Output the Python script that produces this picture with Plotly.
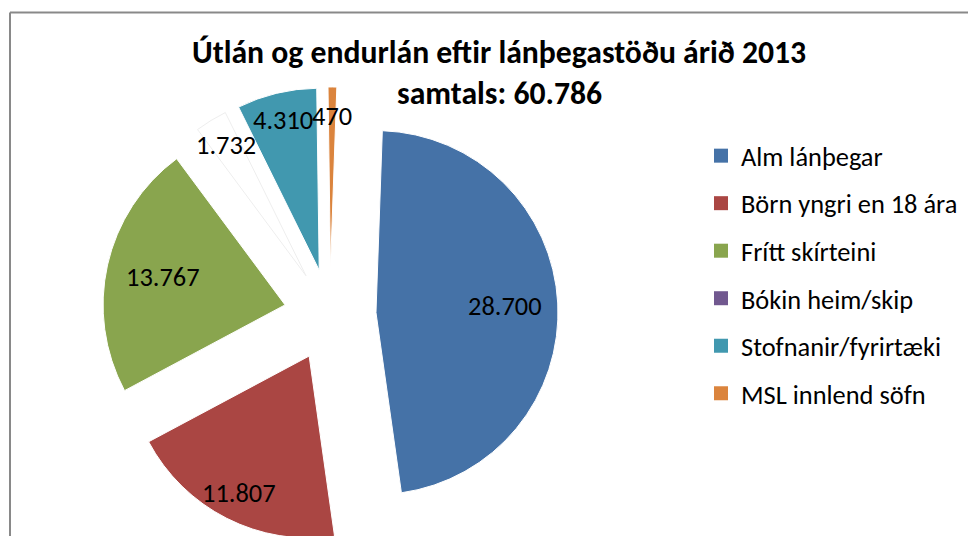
import math
import plotly.graph_objects as go

# ---- data ----
categories = ["Alm lánþegar", "Börn yngri en 18 ára", "Frítt skírteini",
              "Bókin heim/skip", "Stofnanir/fyrirtæki", "MSL innlend söfn"]
values = [28700, 11807, 13767, 1732, 4310, 470]
legend_colors = ["#4572A7", "#AA4643", "#89A54E", "#71588F", "#4198AF", "#DB843D"]
slice_colors = ["#4572A7", "#AA4643", "#89A54E", "#FFFFFF", "#4198AF", "#DB843D"]
title_line1 = "Útlán og endurlán eftir lánþegastöðu árið 2013"
title_line2 = "samtals: 60.786"

# ---- styling / layout ----
W, H = 976, 536
OFF = 8  # page offset of the plot div (body margin) in the viewer
FONT = "Calibri, Carlito, 'Liberation Sans', Arial, sans-serif"
PULL = 0.253
ROT = 2.0
PIE_CX, PIE_CY, PIE_R = 330 - OFF, 315 - OFF, 182  # target pie centre / radius in px
HALF = PIE_R * (1 + PULL)
DOM_X = [(PIE_CX - HALF) / W, (PIE_CX + HALF) / W]
DOM_Y = [1 - (PIE_CY + HALF) / H, 1 - (PIE_CY - HALF) / H]
# radial position of each value label (fraction of radius, measured from the pulled apex)
LABEL_RADIUS = [0.71, 0.845, 0.69, 0.84, 0.85, 0.84]


def fmt(v):
    return f"{v:,.0f}".replace(",", ".")


def px_x(x):
    return (x - OFF) / W


def px_y(y):
    return 1 - (y - OFF) / H


fig = go.Figure()
fig.add_trace(go.Pie(
    labels=categories, values=values, sort=False, direction="clockwise", rotation=ROT,
    marker=dict(colors=slice_colors,
                line=dict(color=["white", "white", "white", "#eeeeee", "white", "white"], width=1)),
    pull=[PULL] * len(values),
    textinfo="none",
    domain=dict(x=DOM_X, y=DOM_Y),
    showlegend=False, hoverinfo="label+value",
))

# value labels placed along each slice's bisector, using the same geometry plotly uses for the pie
box = min((DOM_X[1] - DOM_X[0]) * W, (DOM_Y[1] - DOM_Y[0]) * H)
r = box / (2 * (1 + PULL))
cx = (DOM_X[0] + DOM_X[1]) / 2 * W
cy = (1 - (DOM_Y[0] + DOM_Y[1]) / 2) * H
total = sum(values)
annotations = []
cum = 0.0
for v, k in zip(values, LABEL_RADIUS):
    mid = math.radians(ROT) + (cum + v / 2) / total * 2 * math.pi
    cum += v
    dx, dy = math.sin(mid), -math.cos(mid)
    lx = cx + (PULL + k) * r * dx
    ly = cy + (PULL + k) * r * dy
    annotations.append(dict(text=fmt(v), x=lx / W, y=1 - ly / H, xref="paper", yref="paper",
                            xanchor="center", yanchor="middle", showarrow=False,
                            font=dict(family=FONT, size=26.4, color="black")))

for name, col in zip(categories, legend_colors):
    fig.add_trace(go.Scatter(x=[None], y=[None], mode="markers", name=name, legendgroup=name,
                             marker=dict(symbol="square", size=14, color=col), showlegend=True,
                             hoverinfo="skip"))

annotations += [
    dict(text="<b>" + title_line1 + "</b>", x=px_x(499), y=px_y(52), xref="paper", yref="paper",
         xanchor="center", yanchor="middle", showarrow=False,
         font=dict(family=FONT, size=31.7, color="black")),
    dict(text="<b>" + title_line2 + "</b>", x=px_x(500), y=px_y(94), xref="paper", yref="paper",
         xanchor="center", yanchor="middle", showarrow=False,
         font=dict(family=FONT, size=31.7, color="black")),
]

fig.update_layout(
    width=W, height=H, margin=dict(l=0, r=0, t=0, b=0, autoexpand=False),
    paper_bgcolor="white", plot_bgcolor="white",
    xaxis=dict(visible=False), yaxis=dict(visible=False),
    legend=dict(x=px_x(701), y=px_y(132), xanchor="left", yanchor="top",
                font=dict(family=FONT, size=26.4, color="black"), tracegroupgap=10.2,
                bgcolor="rgba(0,0,0,0)", traceorder="grouped"),
    annotations=annotations,
    shapes=[
        dict(type="line", xref="paper", yref="paper", x0=px_x(10), x1=px_x(10), y0=0, y1=px_y(12.5),
             line=dict(color="#898989", width=2)),
        dict(type="line", xref="paper", yref="paper", x0=px_x(10), x1=1, y0=px_y(12.5), y1=px_y(12.5),
             line=dict(color="#898989", width=2)),
    ],
)
fig.write_html("out.html")
